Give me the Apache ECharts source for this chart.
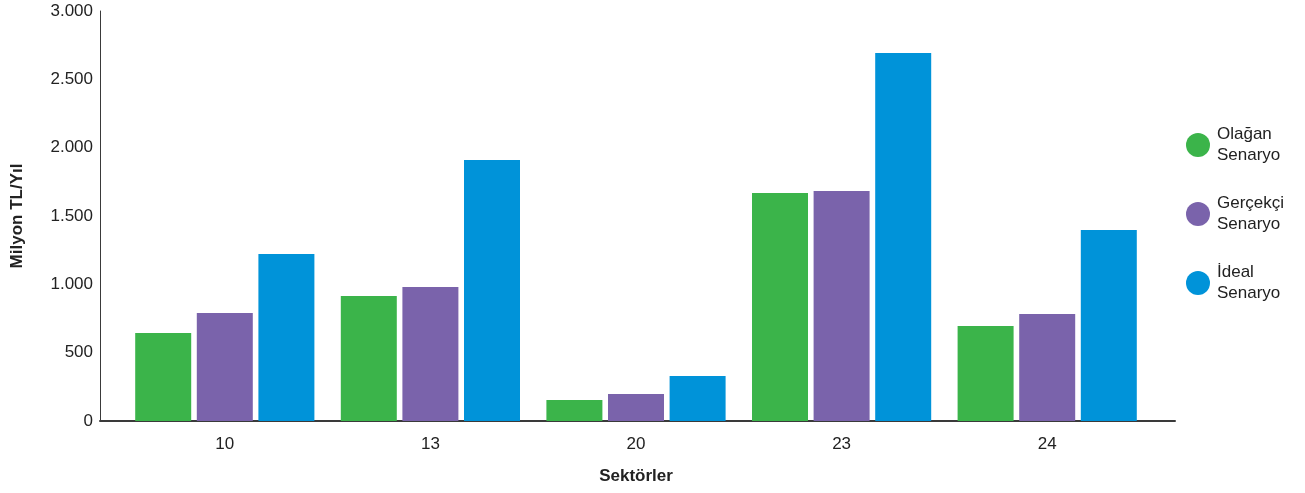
<!DOCTYPE html>
<html>
<head>
<meta charset="utf-8">
<script src="https://cdn.jsdelivr.net/npm/echarts@6/dist/echarts.min.js"></script>
<style>
  html, body { margin: 0; padding: 0; background: #fff; }
  #chart { width: 1305px; height: 493px; }
</style>
</head>
<body>
<div id="chart"></div>
<script>
// Sectors on the category axis
const sectors = ['10', '13', '20', '23', '24'];

// Annual values per scenario (million TL / year)
const olaganValues   = [644, 915, 154, 1668, 695];
const gercekciValues = [790, 980, 198, 1683, 783];
const idealValues    = [1222, 1910, 329, 2693, 1398];

const seriesNames = ['Olağan\nSenaryo', 'Gerçekçi\nSenaryo', 'İdeal\nSenaryo'];
const seriesColors = ['#3BB44A', '#7A63AB', '#0093D9'];

const fontFamily = '"Liberation Sans", Arial, Helvetica, sans-serif';
const textColor = '#222';

function thousands(v) {
  return String(v).replace(/\B(?=(\d{3})+(?!\d))/g, '.');
}

const chart = echarts.init(document.getElementById('chart'), null, { renderer: 'canvas' });

const seriesData = [olaganValues, gercekciValues, idealValues];

chart.setOption({
  animation: false,
  backgroundColor: '#ffffff',
  textStyle: { fontFamily: fontFamily },
  grid: [
    // bar area (categories inset from the axis frame)
    { left: 122, right: 155, top: 11, bottom: 72, containLabel: false },
    // frame carrying the full-width baseline
    { left: 100, right: 130, top: 11, bottom: 72, containLabel: false }
  ],
  legend: {
    orient: 'vertical',
    left: 1181,
    top: 119,
    icon: 'circle',
    itemWidth: 24,
    itemHeight: 24,
    itemGap: 27,
    data: seriesNames,
    textStyle: { fontSize: 17, color: textColor, lineHeight: 21, fontFamily: fontFamily, padding: [0, 0, 0, 2] }
  },
  xAxis: [
    {
      type: 'category',
      gridIndex: 0,
      data: sectors,
      name: 'Sektörler',
      nameLocation: 'middle',
      nameGap: 47,
      nameTextStyle: { fontSize: 17, fontWeight: 'bold', color: textColor, fontFamily: fontFamily },
      axisLine: { show: false },
      axisTick: { show: false },
      axisLabel: { fontSize: 17, color: textColor, margin: 15, fontFamily: fontFamily },
      splitLine: { show: false }
    },
    {
      type: 'value',
      gridIndex: 1,
      min: 0,
      max: 1,
      axisLine: { show: true, lineStyle: { color: '#3a3a3a', width: 2 } },
      axisTick: { show: false },
      axisLabel: { show: false },
      splitLine: { show: false }
    }
  ],
  yAxis: [
    {
      type: 'value',
      gridIndex: 0,
      min: 0,
      max: 3000,
      interval: 500,
      offset: 22,
      name: 'Milyon TL/Yıl',
      nameLocation: 'middle',
      nameGap: 74,
      nameRotate: 90,
      nameTextStyle: { fontSize: 17, fontWeight: 'bold', color: textColor, fontFamily: fontFamily },
      axisLine: { show: true, lineStyle: { color: '#3a3a3a', width: 1 } },
      axisTick: { show: false },
      axisLabel: { fontSize: 17, color: textColor, margin: 7, fontFamily: fontFamily, formatter: thousands },
      splitLine: { show: false }
    },
    {
      type: 'value',
      gridIndex: 1,
      min: 0,
      max: 1,
      show: false
    }
  ],
  series: seriesNames.map((name, i) => ({
    name: name,
    type: 'bar',
    xAxisIndex: 0,
    yAxisIndex: 0,
    data: seriesData[i],
    barWidth: 56,
    barGap: '10%',
    itemStyle: { color: seriesColors[i] }
  }))
});
</script>
</body>
</html>
